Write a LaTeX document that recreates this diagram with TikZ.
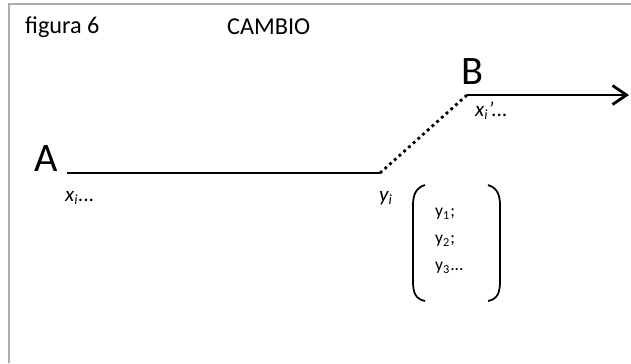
\documentclass[tikz,border=0pt]{standalone}
\usepackage{fontspec}
\setmainfont{Carlito}
\usepackage{xcolor}
\usetikzlibrary{arrows.meta}

\begin{document}
\begin{tikzpicture}[x=0.02cm,y=-0.02cm]
\useasboundingbox (0,0) rectangle (631,363);
%draw frame
\draw[gray!65, line width=1.3pt] (9,363) -- (9,4) -- (631,4);
%draw titles
\node[anchor=west, font=\fontsize{13.8}{16}\selectfont] (fig) at (19,27) {figura 6};
\node[anchor=west, font=\fontsize{13.8}{16}\selectfont] (title) at (221,27) {CAMBIO};
%draw end points
\node[font=\fontsize{23}{26}\selectfont] (A) at (46,159) {A};
\node[font=\fontsize{23}{26}\selectfont] (B) at (472,72) {B};
\coordinate (a0) at (67,173);
\coordinate (yi0) at (380,173);
\coordinate (b0) at (467,95);
\coordinate (bend) at (629,95);
%draw lines
\draw[line width=1.6pt] (a0) -- (yi0);
\draw[line width=1.6pt, dotted] (yi0) -- (b0);
\draw[line width=1.6pt, -{Straight Barb[length=2.8mm,width=3.8mm]}] (b0) -- (bend);
%draw labels
\node[anchor=west, font=\fontsize{12}{14}\selectfont\itshape] (xi) at (59,198) {x\textsubscript{i}...};
\node[anchor=west, font=\fontsize{12}{14}\selectfont\itshape] (yi) at (373,198) {y\textsubscript{i}};
\node[anchor=west, font=\fontsize{12}{14}\selectfont\itshape] (xip) at (469,111) {x\textsubscript{i}'...};
%draw bracket
\draw[line width=1pt] (425,185) .. controls (415,188) and (413,196) .. (413,206) -- (413,281) .. controls (413,292) and (415,299) .. (425,301);
\draw[line width=1pt] (488,185) .. controls (498,188) and (500,196) .. (500,206) -- (500,281) .. controls (500,292) and (498,299) .. (488,301);
\node[anchor=west, font=\fontsize{10}{12}\selectfont] (y1) at (429,214) {y\textsubscript{1};};
\node[anchor=west, font=\fontsize{10}{12}\selectfont] (y2) at (429,241) {y\textsubscript{2};};
\node[anchor=west, font=\fontsize{10}{12}\selectfont] (y3) at (429,268) {y\textsubscript{3}...};
\end{tikzpicture}
\end{document}
